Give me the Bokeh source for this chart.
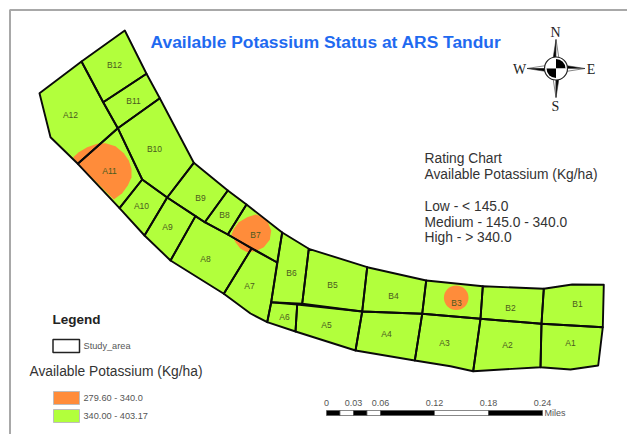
from bokeh.plotting import figure
from bokeh.models import Range1d
from bokeh.core.properties import value
from bokeh.embed import file_html
from bokeh.resources import INLINE
import math

# Plot parcels: name -> outline vertices (map position)
parcel_names = ["B12","B11","B10","A12","A11","A10","A9","A8","A7","B9","B8","B7","B6","B5","B4","B3","B2","B1",
                "A6","A5","A4","A3","A2","A1"]
parcel_xs = [
 [81,124.3,146,102.7],
 [102.7,146,159.3,117.3],
 [117.3,159.3,193.3,166.7,141.7],
 [39,81,102.7,117.3,77.3,50],
 [117.3,141.7,119,77.3],
 [141.7,166.7,144,119],
 [166.7,195,170,144],
 [195,204.3,227.3,251,223.3,170],
 [251,276.7,270.7,266.7,250,223.3],
 [193.3,227.3,204.3,166.7],
 [227.3,246,227.3,204.3],
 [246,281.7,276.7,227.3],
 [281.7,308.3,301.7,270.7],
 [308.3,366.7,361.7,301.7],
 [366.7,425.7,421.7,361.7],
 [425.7,482.3,480,421.7],
 [482.3,543.3,541,480],
 [543.3,571.7,603.3,602.3,541],
 [270.7,296.7,295,266.7],
 [296.7,361.7,355,295],
 [361.7,421.7,414.3,355],
 [421.7,480,472.7,450,414.3],
 [480,541,540,472.7],
 [541,602.3,597.7,570,540],
]
parcel_ys = [
 [61,30,73.3,101.7],
 [101.7,73.3,97.7,127.7],
 [127.7,97.7,162.3,197,179],
 [92.7,61,101.7,127.7,163.3,136.7],
 [127.7,179,207.7,163.3],
 [179,197,235,207.7],
 [197,215.6,260,235],
 [215.6,221.7,234,248,293.3,260],
 [248,262,301.7,321.7,313,293.3],
 [162.3,190,221.7,197],
 [190,204,234,221.7],
 [204,232,262,234],
 [232,248.3,303.3,301.7],
 [248.3,266.7,311,303.3],
 [266.7,280,313.3,311],
 [280,285.7,318.3,313.3],
 [285.7,288.3,323.3,318.3],
 [288.3,284,284.3,326.7,323.3],
 [301.7,304,331,321.7],
 [304,311,350,331],
 [311,313.3,360,350],
 [313.3,318.3,370.7,365.7,360],
 [318.3,323.3,366.7,370.7],
 [323.3,326.7,365,369,366.7],
]
label_x = [114,133,154,70,109,141,167,205,249,200,224,255,291,332,393,456,510,577,284,326,386,444,507,570]
label_y = [64,100,148,114,170,205,226,258,285,197,214,234,272,284,295,302,307,303,316,324,333,342,344,342]

# Low-class patches
blob_xs = [[72.7,78.3,86.7,96.7,105,115,123.3,128.3,131,131,127.3,121.7,113.3,77.3],
           [231,233.3,238.3,246.7,255,261.7,267.3,270.7,269.3,263.3,255,246.7,240,235]]
blob_ys = [[156.7,151.7,146.7,143.3,142.7,145.7,152.7,160,168.3,176.7,185,192.7,199,163.3],
           [234,228.3,221.7,216.7,214,216,221.7,230,239.3,246.7,250.7,251.7,248.3,241.7]]
b3_x, b3_y, b3_r = 455.7, 297.3, 12.3

title = "Available Potassium Status at ARS Tandur"
rating_lines = ["Rating Chart", "Available Potassium (Kg/ha)", "", "Low -  < 145.0",
                "Medium - 145.0 - 340.0", "High -  > 340.0"]
rating_y = [158, 174, 190, 206, 222, 237]
legend_labels = ["279.60 - 340.0", "340.00 - 403.17"]
legend_colors = ["#FF8C3A", "#B2FF3C"]
scale_miles = [0, 0.015, 0.03, 0.045, 0.06, 0.12, 0.18, 0.24]
scale_ticks = [0, 0.03, 0.06, 0.12, 0.18, 0.24]
scale_tick_labels = ["0", "0.03", "0.06", "0.12", "0.18", "0.24"]
compass = ["N", "S", "W", "E"]

W, H = 627, 434
p = figure(width=W, height=H, x_range=Range1d(0, W), y_range=Range1d(H, 0),
           output_backend="svg", toolbar_location=None, min_border=0)
p.axis.visible = False
p.grid.visible = False
p.outline_line_color = None
FONT = value("Liberation Sans")
TXT = "#333333"

# frame
p.line([9.5, 9.5], [434, 9], line_color="#a8a8a8", line_width=2)
p.line([9.5, 627], [9.5, 9.5], line_color="#a8a8a8", line_width=2)

# parcels
p.patches(parcel_xs, parcel_ys, fill_color="#B2FF3C", line_color=None)
p.patches(blob_xs, blob_ys, fill_color="#FF8C3A", line_color=None)
p.circle([b3_x], [b3_y], radius=b3_r, fill_color="#FF8C3A", line_color=None)
p.patches(parcel_xs, parcel_ys, fill_color=None, line_color="#0a0a0a", line_width=1.9, line_join="round")
p.text(label_x, label_y, text=parcel_names, text_font=FONT, text_font_size="8.5px",
       text_color="#4a5a20", text_align="center", text_baseline="middle")

# title
p.text([325.5], [41], text=[title], text_font=FONT, text_font_style="bold", text_font_size="17.4px",
       text_color="#1F6AF0", text_align="center", text_baseline="middle")

# rating chart
p.text([424] * len(rating_lines), rating_y, text=rating_lines, text_font=FONT, text_font_size="13.8px",
       text_color=TXT, text_align="left", text_baseline="middle")

# legend
p.text([52], [319], text=["Legend"], text_font=FONT, text_font_style="bold", text_font_size="13.5px",
       text_color="#222222", text_baseline="middle")
p.quad(left=[52.5], right=[79], top=[339], bottom=[352], fill_color="white", line_color="#222222", line_width=1.5)
p.text([83], [345.5], text=["Study_area"], text_font=FONT, text_font_size="9.2px", text_color="#555555",
       text_baseline="middle")
p.text([29], [370.5], text=["Available Potassium (Kg/ha)"], text_font=FONT, text_font_size="13.8px",
       text_color=TXT, text_baseline="middle")
p.quad(left=[53, 53], right=[79, 79], top=[391, 409], bottom=[404, 422], fill_color=legend_colors,
       line_color="#bdbdbd", line_width=1)
p.text([83, 83], [397.5, 415], text=legend_labels, text_font=FONT, text_font_size="9.2px", text_color="#555555",
       text_baseline="middle")

# scale bar
PX_PER_MILE, X0 = 900, 326
sx = [X0 + m * PX_PER_MILE for m in scale_miles]
seg_colors = ["#000000" if i % 2 == 0 else "#ffffff" for i in range(len(sx) - 1)]
p.quad(left=sx[:-1], right=sx[1:], top=[410] * (len(sx) - 1), bottom=[415] * (len(sx) - 1),
       fill_color=seg_colors, line_color="#555555", line_width=0.7)
p.text([X0 + m * PX_PER_MILE for m in scale_ticks], [402] * len(scale_ticks), text=scale_tick_labels,
       text_font=FONT, text_font_size="9px", text_color="#555555", text_align="center", text_baseline="middle")
p.text([544], [412], text=["Miles"], text_font=FONT, text_font_size="9px", text_color="#555555",
       text_baseline="middle")

# compass
cx, cy, r = 555.5, 68, 11.5
arm, hw = 29, 4.5
p.patches(
    [[cx - hw, cx, cx], [cx, cx + hw, cx], [cx - hw, cx, cx], [cx, cx + hw, cx],
     [cx - arm, cx, cx], [cx - arm, cx, cx], [cx + arm, cx, cx], [cx + arm, cx, cx]],
    [[cy, cy - arm, cy], [cy - arm, cy, cy], [cy, cy + arm, cy], [cy + arm, cy, cy],
     [cy, cy - hw, cy], [cy, cy + hw, cy], [cy, cy - hw, cy], [cy, cy + hw, cy]],
    fill_color=["#000000", "#ffffff", "#ffffff", "#000000", "#ffffff", "#000000", "#000000", "#ffffff"],
    line_color="#333333", line_width=0.6)
p.circle([cx], [cy], radius=r, fill_color="white", line_color="#222222", line_width=1.2)
p.wedge([cx] * 4, [cy] * 4, radius=r - 2,
        start_angle=[0, math.pi / 2, math.pi, 3 * math.pi / 2],
        end_angle=[math.pi / 2, math.pi, 3 * math.pi / 2, 2 * math.pi],
        fill_color=["#000000", "#ffffff", "#000000", "#ffffff"], line_color=None)
p.text([555, 555, 519, 590.5], [32, 106, 68.5, 68.5], text=compass, text_font=value("Liberation Serif"),
       text_font_size="14px", text_color="#222222", text_align="center", text_baseline="middle")

open("out.html", "w").write(file_html(p, INLINE))
